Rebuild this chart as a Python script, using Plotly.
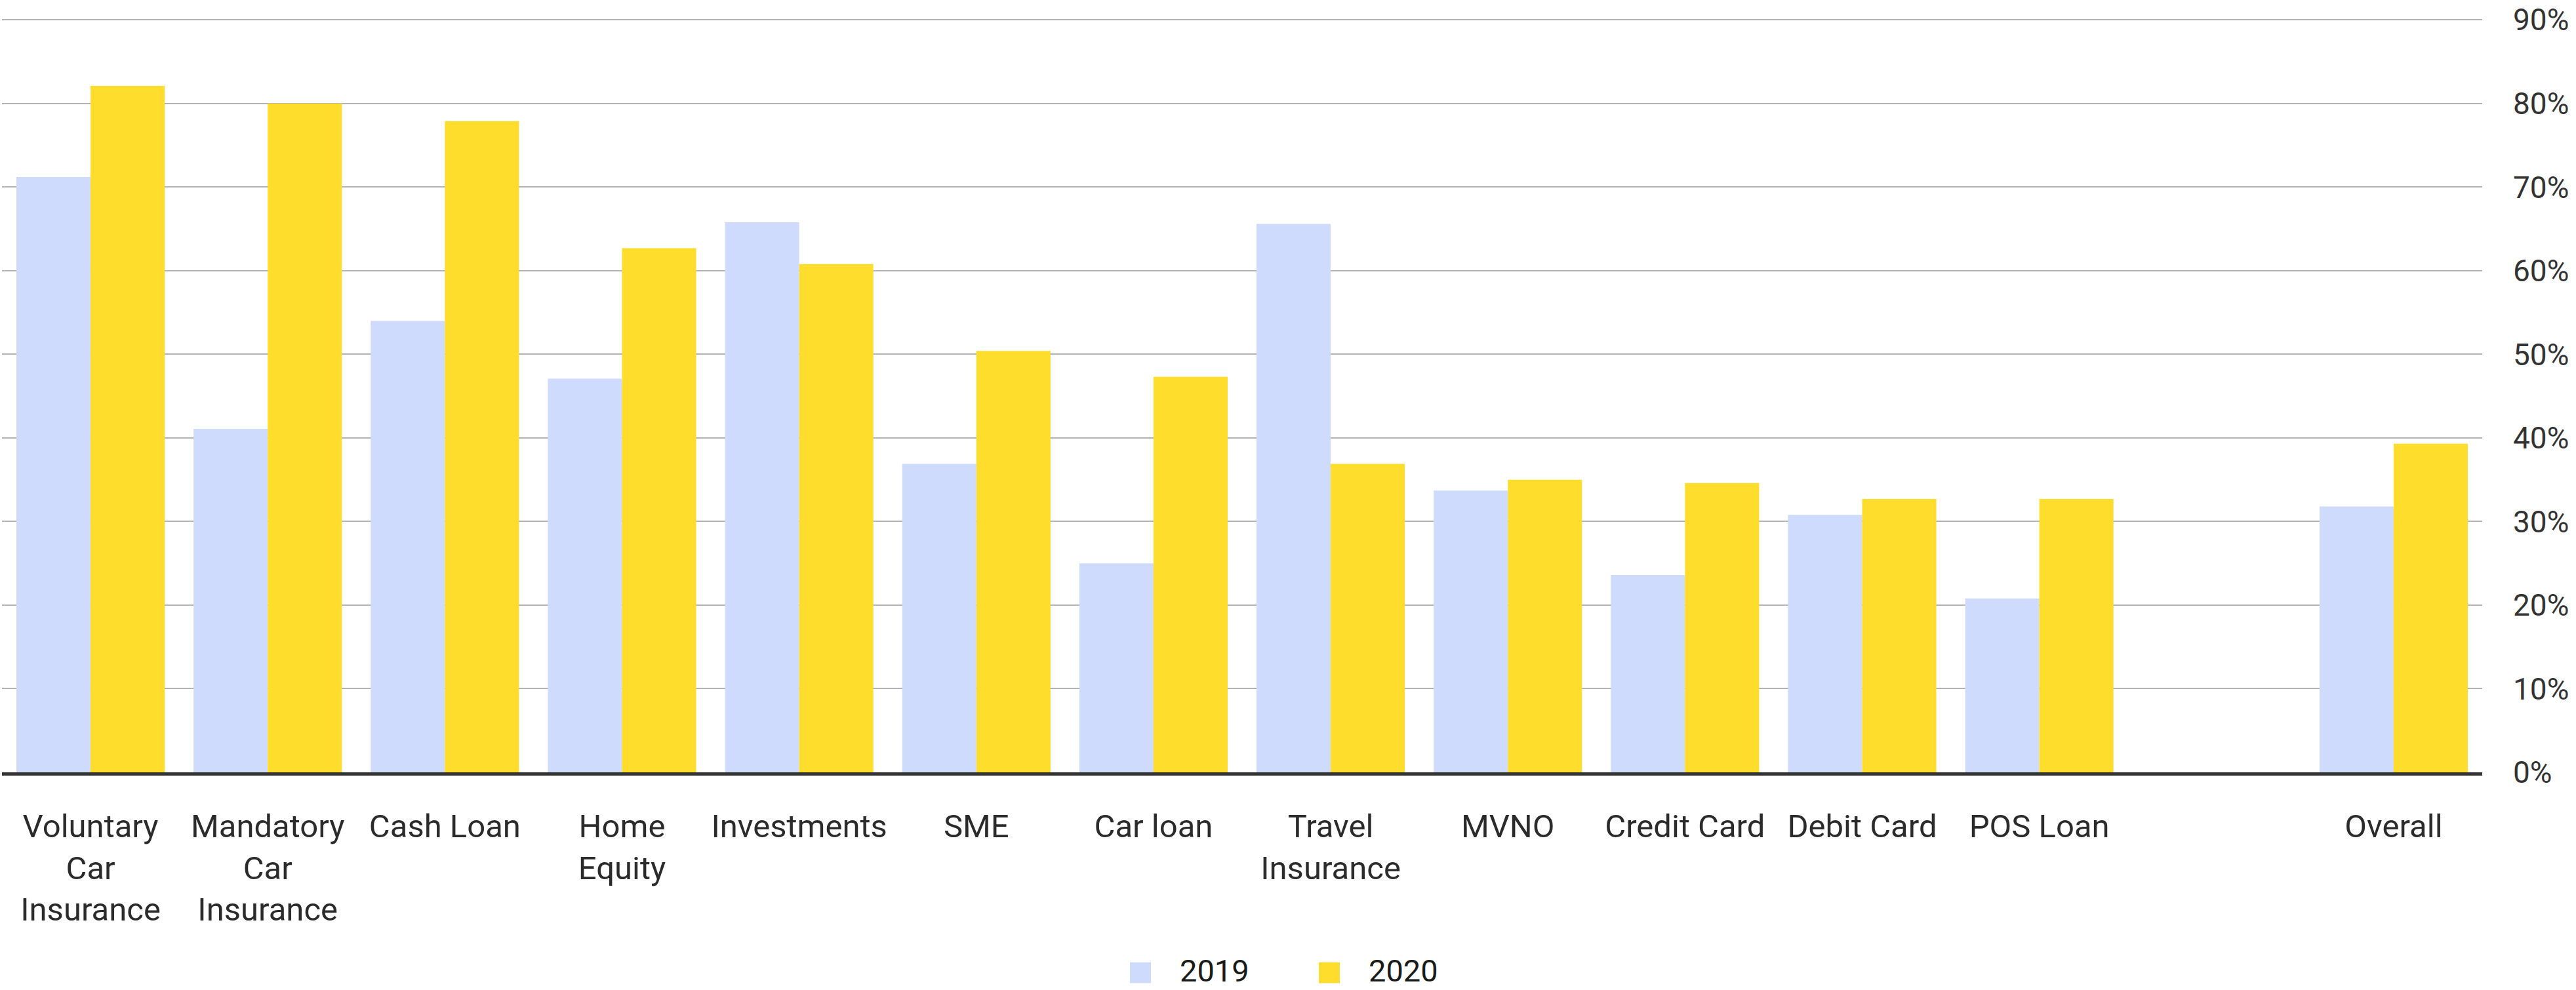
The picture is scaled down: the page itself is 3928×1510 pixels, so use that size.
import plotly.graph_objects as go

# Product categories (the blank slot separates the overall figure)
categories = [
    "Voluntary Car Insurance", "Mandatory Car Insurance", "Cash Loan", "Home Equity",
    "Investments", "SME", "Car loan", "Travel Insurance", "MVNO", "Credit Card",
    "Debit Card", "POS Loan", " ", "Overall",
]
tick_labels = [
    "Voluntary<br>Car<br>Insurance", "Mandatory<br>Car<br>Insurance", "Cash Loan", "Home<br>Equity",
    "Investments", "SME", "Car loan", "Travel<br>Insurance", "MVNO", "Credit Card",
    "Debit Card", "POS Loan", "", "Overall",
]

# Shares, percent
share_2019 = [71.2, 41.1, 54.0, 47.1, 65.8, 36.9, 25.0, 65.6, 33.7, 23.6, 30.8, 20.8, None, 31.8]
share_2020 = [82.1, 80.0, 77.9, 62.7, 60.8, 50.4, 47.3, 36.9, 35.0, 34.6, 32.7, 32.7, None, 39.3]

series_names = ["2019", "2020"]
series_colors = ["#CFDBFC", "#FFDD2D"]

y_ticks = list(range(0, 91, 10))
y_tick_text = [f"{v}%" for v in y_ticks]
Y_MAX = 90.5

W, H = 3928, 1510
M_L, M_R, M_T, M_B = 3, 143, 19, 332
PLOT_W = W - M_L - M_R
PLOT_H = H - M_T - M_B
FONT = "Roboto, 'Open Sans', Arial, sans-serif"


def paper_x(px):
    return (px - M_L) / PLOT_W


def paper_y(py):
    return (H - M_B - py) / PLOT_H


fig = go.Figure()
for name, color, values in zip(series_names, series_colors, [share_2019, share_2020]):
    fig.add_trace(go.Bar(
        x=categories, y=values, name=name,
        marker=dict(color=color, line=dict(width=0)),
        showlegend=False,
        hovertemplate="%{x}: %{y}%<extra>" + name + "</extra>",
    ))

# Legend drawn as swatches + labels, centred under the chart
shapes, annotations = [], []
swatch_left = [1723, 2011]
for name, color, left in zip(series_names, series_colors, swatch_left):
    shapes.append(dict(
        type="rect", xref="paper", yref="paper",
        x0=paper_x(left), x1=paper_x(left + 32),
        y0=paper_y(1501), y1=paper_y(1469),
        fillcolor=color, line=dict(width=0), layer="above",
    ))
    annotations.append(dict(
        text=name, xref="paper", yref="paper",
        x=paper_x(left + 74), y=paper_y(1482),
        xanchor="left", yanchor="middle", showarrow=False,
        font=dict(family=FONT, size=47, color="#1a1a1a"),
    ))

fig.update_layout(
    width=W, height=H,
    margin=dict(l=M_L, r=M_R, t=M_T, b=M_B),
    paper_bgcolor="white", plot_bgcolor="white",
    barmode="group", bargap=0.163, bargroupgap=0,
    font=dict(family=FONT, color="#2b2b2b"),
    shapes=shapes, annotations=annotations,
    xaxis=dict(
        type="category", categoryorder="array", categoryarray=categories,
        tickmode="array", tickvals=categories, ticktext=tick_labels,
        range=[-0.5, len(categories) - 0.5],
        showgrid=False, zeroline=False,
        showline=True, linecolor="#333333", linewidth=5,
        ticks="", ticklabelstandoff=35,
        tickfont=dict(family=FONT, size=49, color="#2b2b2b"),
        layer="above traces",
    ),
    yaxis=dict(
        side="right", range=[0, Y_MAX],
        tickmode="array", tickvals=y_ticks, ticktext=y_tick_text,
        showgrid=True, gridcolor="#B3B3B3", gridwidth=2,
        zeroline=False, showline=False, ticks="",
        ticklabelstandoff=46, ticklabeloverflow="allow",
        tickfont=dict(family=FONT, size=46, color="#333333"),
    ),
)

fig.write_html("out.html")
